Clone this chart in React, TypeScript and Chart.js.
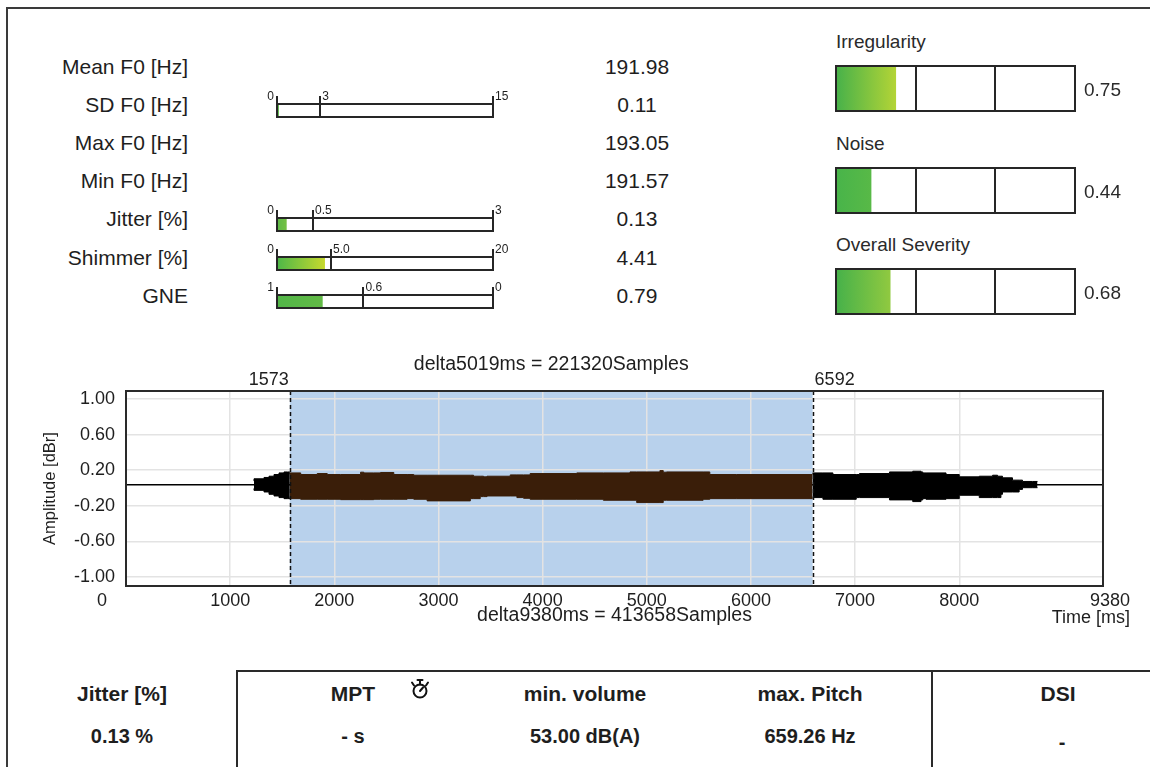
import React, { useEffect, useRef } from 'react';
import { Chart, registerables } from 'chart.js';

Chart.register(...registerables);

const FONT = '"Liberation Sans", Arial, Helvetica, sans-serif';

// ---------------- data ----------------
const PARAM_LABELS = ['Mean F0 [Hz]', 'SD F0 [Hz]', 'Max F0 [Hz]', 'Min F0 [Hz]', 'Jitter [%]', 'Shimmer [%]', 'GNE'];
const PARAM_VALUES = [191.98, 0.11, 193.05, 191.57, 0.13, 4.41, 0.79];

// gauges shown next to some of the parameters (row index into PARAM_*)
const GAUGE_ROWS = [1, 4, 5, 6];
const GAUGE_FROM = [0, 0, 0, 1];
const GAUGE_MARK = [3, 0.5, 5.0, 0.6];
const GAUGE_TO = [15, 3, 20, 0];
const GAUGE_TICK_LABELS = [['0', '3', '15'], ['0', '0.5', '3'], ['0', '5.0', '20'], ['1', '0.6', '0']];

const SEVERITY_LABELS = ['Irregularity', 'Noise', 'Overall Severity'];
const SEVERITY_VALUES = [0.75, 0.44, 0.68];
const SEVERITY_MARKS = [0, 1, 2, 3];

// waveform
const TOTAL_MS = 9380;
const TOTAL_SAMPLES = 413658;
const SEL_START = 1573;
const SEL_END = 6592;
const SEL_SAMPLES = 221320;
const X_TICKS = [0, 1000, 2000, 3000, 4000, 5000, 6000, 7000, 8000, 9380];
const Y_TICKS = [-1.0, -0.6, -0.2, 0.2, 0.6, 1.0];
const BASELINE = 0.036;

const PRE_T = [1229, 1325, 1373, 1421, 1469, 1517, 1550, 1573];
const PRE_UP = [0.078, 0.104, 0.119, 0.133, 0.152, 0.17, 0.181, 0.181];
const PRE_LO = [-0.004, -0.026, -0.044, -0.07, -0.089, -0.107, -0.119, -0.119];

const MID_T = [1573, 1677, 1836, 1932, 2060, 2252, 2283, 2379, 2443, 2571, 2699, 2763, 2891, 3306, 3337, 3401, 3433, 3466, 3689, 3753, 3817, 3880, 4328, 4583, 4839, 4903, 5126, 5158, 5190, 5541, 5605, 5861, 6592];
const MID_UP = [0.152, 0.17, 0.152, 0.163, 0.152, 0.152, 0.178, 0.17, 0.17, 0.175, 0.152, 0.152, 0.144, 0.144, 0.144, 0.133, 0.133, 0.126, 0.133, 0.148, 0.148, 0.148, 0.163, 0.17, 0.17, 0.181, 0.181, 0.196, 0.178, 0.181, 0.181, 0.152, 0.152];
const MID_LO = [-0.107, -0.119, -0.126, -0.126, -0.126, -0.13, -0.13, -0.13, -0.126, -0.126, -0.126, -0.119, -0.126, -0.144, -0.119, -0.119, -0.096, -0.096, -0.089, -0.089, -0.107, -0.115, -0.126, -0.126, -0.137, -0.137, -0.163, -0.163, -0.137, -0.137, -0.126, -0.119, -0.119];

const POST_T = [6592, 6691, 6787, 7011, 7042, 7330, 7553, 7633, 7650, 7681, 7873, 8000, 8192, 8320, 8368, 8400, 8415, 8511, 8575, 8607, 8703, 8751];
const POST_UP = [0.163, 0.17, 0.17, 0.152, 0.152, 0.163, 0.181, 0.189, 0.181, 0.17, 0.17, 0.152, 0.126, 0.133, 0.144, 0.133, 0.133, 0.115, 0.089, 0.089, 0.074, 0.074];
const POST_LO = [-0.107, -0.107, -0.126, -0.126, -0.107, -0.107, -0.133, -0.152, -0.133, -0.119, -0.126, -0.119, -0.081, -0.107, -0.107, -0.107, -0.07, -0.044, -0.044, -0.015, 0.004, 0.004];

const SUMMARY_HEADERS = ['Jitter [%]', 'MPT', 'min. volume', 'max. Pitch', 'DSI'];
const SUMMARY_VALUES = ['0.13 %', '- s', '53.00 dB(A)', '659.26 Hz', '-'];

// ---------------- styles ----------------
const GAUGE_COLORS = [['#5cb847', '#5cb847'], ['#5db947', '#74c044'], ['#4db748', '#c6d92e'], ['#52b648', '#62ba46']];
const SEVERITY_COLORS = [['#47b14a', '#b3d436'], ['#48b44a', '#58b947'], ['#46b14a', '#90c940']];
const BROWN = '#3a1e09';
const SEL_BLUE = '#b8d1ec';
const INK = '#1e1e1e';

function Txt({ x, y, a = 'left', size, bold = false, color = INK, children }: any) {
  const tx = a === 'left' ? '0' : a === 'center' ? '-50%' : '-100%';
  return (
    <div
      style={{
        position: 'absolute',
        left: x,
        top: y,
        transform: `translate(${tx}, -50%)`,
        fontSize: size,
        fontWeight: bold ? 700 : 400,
        color,
        whiteSpace: 'nowrap',
        lineHeight: 1,
        fontFamily: FONT,
      }}
    >
      {children}
    </div>
  );
}

function Gauge({ left, top, width, height, from, to, value, marks, markLabels, colors, framed }: any) {
  const ref = useRef<HTMLCanvasElement | null>(null);
  const padL = 14, padR = 24, padT = 16, padB = 2;
  useEffect(() => {
    const lo = Math.min(from, to), hi = Math.max(from, to);
    const plugin = {
      id: 'gaugeFrame',
      afterDatasetsDraw(chart: any) {
        const { ctx, chartArea: a, scales } = chart;
        const xs = scales.x;
        ctx.save();
        ctx.strokeStyle = '#262626';
        ctx.lineWidth = 2;
        ctx.beginPath();
        if (framed) {
          ctx.rect(a.left, a.top, a.right - a.left, a.bottom - a.top);
          marks.slice(1, -1).forEach((m: number) => {
            const px = Math.round(xs.getPixelForValue(m));
            ctx.moveTo(px, a.top);
            ctx.lineTo(px, a.bottom);
          });
        } else {
          ctx.moveTo(a.left, a.top);
          ctx.lineTo(a.right, a.top);
          ctx.moveTo(a.left, a.bottom);
          ctx.lineTo(a.right, a.bottom);
          marks.forEach((m: number) => {
            const px = Math.round(xs.getPixelForValue(m));
            ctx.moveTo(px, a.top - 8);
            ctx.lineTo(px, a.bottom + 1);
          });
        }
        ctx.stroke();
        if (markLabels) {
          ctx.fillStyle = INK;
          ctx.font = `12px ${FONT}`;
          ctx.textBaseline = 'alphabetic';
          marks.forEach((m: number, i: number) => {
            const px = xs.getPixelForValue(m);
            if (i === 0) {
              ctx.textAlign = 'right';
              ctx.fillText(markLabels[i], px - 3, a.top - 4);
            } else {
              ctx.textAlign = 'left';
              ctx.fillText(markLabels[i], px + 2, a.top - 4);
            }
          });
        }
        ctx.restore();
      },
    };
    const chart = new Chart(ref.current as HTMLCanvasElement, {
      type: 'bar',
      data: {
        labels: ['v'],
        datasets: [
          {
            data: [[from, value]] as any,
            borderWidth: 0,
            barPercentage: 1,
            categoryPercentage: 1,
            backgroundColor: (c: any) => {
              const ch = c.chart;
              if (!ch.chartArea) return colors[0];
              const xs = ch.scales.x;
              const x0 = xs.getPixelForValue(from);
              const x1 = xs.getPixelForValue(value);
              if (Math.abs(x1 - x0) < 2) return colors[0];
              const g = ch.ctx.createLinearGradient(x0, 0, x1, 0);
              g.addColorStop(0, colors[0]);
              g.addColorStop(1, colors[1]);
              return g;
            },
          },
        ],
      },
      options: {
        indexAxis: 'y',
        animation: false,
        responsive: false,
        maintainAspectRatio: false,
        events: [],
        layout: { padding: { left: padL, right: padR, top: padT, bottom: padB } },
        plugins: { legend: { display: false }, tooltip: { enabled: false } },
        scales: {
          x: { type: 'linear', min: lo, max: hi, reverse: from > to, display: false },
          y: { type: 'category', display: false },
        },
      } as any,
      plugins: [plugin],
    });
    return () => chart.destroy();
  }, []);
  return (
    <canvas
      ref={ref}
      width={width + padL + padR}
      height={height + padT + padB}
      style={{ position: 'absolute', left: left - padL, top: top - padT, width: width + padL + padR, height: height + padT + padB }}
    />
  );
}

function Waveform() {
  const ref = useRef<HTMLCanvasElement | null>(null);
  useEffect(() => {
    const pts = (t: number[], v: number[]) => t.map((x, i) => ({ x, y: v[i] }));
    const seg = (t: number[], up: number[], lo: number[], color: string) => [
      { data: pts(t, up), borderColor: color, backgroundColor: color, borderWidth: 1, pointRadius: 0, stepped: 'after', fill: false, order: 1 },
      { data: pts(t, lo), borderColor: color, backgroundColor: color, borderWidth: 1, pointRadius: 0, stepped: 'after', fill: '-1', order: 1 },
    ];
    const datasets: any[] = [
      ...seg(PRE_T, PRE_UP, PRE_LO, '#000'),
      ...seg(MID_T, MID_UP, MID_LO, BROWN),
      ...seg(POST_T, POST_UP, POST_LO, '#000'),
      {
        data: [{ x: 0, y: BASELINE }, { x: TOTAL_MS, y: BASELINE }],
        borderColor: '#000',
        borderWidth: 1.5,
        pointRadius: 0,
        fill: false,
        order: 5,
      },
    ];

    const plugin = {
      id: 'waveDecor',
      beforeDraw(chart: any) {
        const { ctx, chartArea: a, scales } = chart;
        const x0 = scales.x.getPixelForValue(SEL_START);
        const x1 = scales.x.getPixelForValue(SEL_END);
        ctx.save();
        ctx.fillStyle = SEL_BLUE;
        ctx.fillRect(x0, a.top, x1 - x0, a.bottom - a.top);
        ctx.restore();
      },
      afterDatasetsDraw(chart: any) {
        const { ctx, chartArea: a, scales } = chart;
        const x0 = Math.round(scales.x.getPixelForValue(SEL_START)) + 0.5;
        const x1 = Math.round(scales.x.getPixelForValue(SEL_END)) + 0.5;
        ctx.save();
        ctx.strokeStyle = '#111';
        ctx.lineWidth = 1.5;
        ctx.setLineDash([4, 3]);
        ctx.beginPath();
        ctx.moveTo(x0, a.top);
        ctx.lineTo(x0, a.bottom);
        ctx.moveTo(x1, a.top);
        ctx.lineTo(x1, a.bottom);
        ctx.stroke();
        ctx.setLineDash([]);
        ctx.strokeStyle = '#2a2a2a';
        ctx.lineWidth = 2;
        ctx.strokeRect(a.left, a.top, a.right - a.left, a.bottom - a.top);
        ctx.restore();
      },
      afterDraw(chart: any) {
        const { ctx, chartArea: a, scales } = chart;
        const xs = scales.x;
        ctx.save();
        ctx.fillStyle = INK;
        ctx.textBaseline = 'middle';
        ctx.font = `18px ${FONT}`;
        X_TICKS.forEach((v, i) => {
          const px = xs.getPixelForValue(v);
          ctx.textAlign = 'center';
          if (i === 0) {
            ctx.fillText(String(v), px - 24, a.bottom + 15);
          } else if (i === X_TICKS.length - 1) {
            ctx.fillText(String(v), px + 7, a.bottom + 15);
          } else {
            ctx.fillText(String(v), px, a.bottom + 15);
          }
        });
        const x0 = xs.getPixelForValue(SEL_START);
        const x1 = xs.getPixelForValue(SEL_END);
        ctx.textAlign = 'right';
        ctx.fillText(String(SEL_START), x0 - 1, a.top - 11);
        ctx.textAlign = 'left';
        ctx.fillText(String(SEL_END), x1 + 2, a.top - 11);
        ctx.font = `19.5px ${FONT}`;
        ctx.textAlign = 'center';
        ctx.fillText(`delta${SEL_END - SEL_START}ms = ${SEL_SAMPLES}Samples`, (x0 + x1) / 2, a.top - 26);
        ctx.fillText(`delta${TOTAL_MS}ms = ${TOTAL_SAMPLES}Samples`, (a.left + a.right) / 2, a.bottom + 30);
        ctx.font = `18px ${FONT}`;
        ctx.textAlign = 'right';
        ctx.fillText('Time [ms]', a.right + 27, a.bottom + 32);
        ctx.restore();
      },
    };

    const chart = new Chart(ref.current as HTMLCanvasElement, {
      type: 'line',
      data: { datasets },
      options: {
        animation: false,
        responsive: false,
        maintainAspectRatio: false,
        events: [],
        layout: { padding: { left: 0, right: 47, top: 51, bottom: 54 } },
        plugins: { legend: { display: false }, tooltip: { enabled: false } },
        scales: {
          x: {
            type: 'linear',
            min: 0,
            max: TOTAL_MS,
            afterBuildTicks: (s: any) => {
              s.ticks = X_TICKS.map((v) => ({ value: v }));
            },
            ticks: { display: false },
            grid: { color: '#e3e3e3', lineWidth: 1.5, drawTicks: false },
            border: { display: false },
            afterFit: (s: any) => {
              s.height = 0;
            },
          },
          y: {
            type: 'linear',
            min: -1.1,
            max: 1.09,
            afterBuildTicks: (s: any) => {
              s.ticks = Y_TICKS.map((v) => ({ value: v }));
            },
            ticks: {
              font: { family: FONT, size: 18 },
              color: INK,
              padding: 11,
              callback: (v: any) => Number(v).toFixed(2),
            },
            grid: { color: '#e3e3e3', lineWidth: 1.5, drawTicks: false },
            border: { display: false },
            title: {
              display: true,
              text: 'Amplitude [dBr]',
              font: { family: FONT, size: 16.5 },
              color: INK,
              padding: { top: 41, bottom: 0 },
            },
            afterFit: (s: any) => {
              s.width = 126;
            },
          },
        },
      } as any,
      plugins: [plugin],
    });
    return () => chart.destroy();
  }, []);
  return <canvas ref={ref} width={1150} height={300} style={{ position: 'absolute', left: 0, top: 340, width: 1150, height: 300 }} />;
}

function Stopwatch({ x, y }: any) {
  return (
    <svg width={22} height={22} viewBox="0 0 22 22" style={{ position: 'absolute', left: x - 11, top: y - 11 }}>
      <g stroke="#111" strokeWidth={2} fill="none" strokeLinecap="round">
        <circle cx={11} cy={13} r={6.5} />
        <line x1={11} y1={13} x2={14} y2={9.5} />
        <line x1={11} y1={6.5} x2={11} y2={2} />
        <line x1={8.5} y1={2} x2={13.5} y2={2} />
        <line x1={5} y1={7.5} x2={3} y2={4.5} />
        <line x1={17} y1={7.5} x2={19} y2={4.5} />
      </g>
    </svg>
  );
}

export default function App() {
  const rowY = (i: number) => 65.5 + i * 38.2;
  const sumX = [122, 353, 585, 810, 1058];
  return (
    <div style={{ position: 'absolute', left: 0, top: 0, width: 1150, height: 767, overflow: 'hidden', background: '#fff', fontFamily: FONT }}>
      {/* outer frame */}
      <div style={{ position: 'absolute', left: 6, top: 7, width: 1200, height: 800, borderTop: '2px solid #3a3a3a', borderLeft: '2px solid #3a3a3a' }} />

      {/* parameter list */}
      {PARAM_LABELS.map((l, i) => (
        <Txt key={'l' + i} x={188} y={rowY(i)} a="right" size={21}>
          {l}
        </Txt>
      ))}
      {PARAM_VALUES.map((v, i) => (
        <Txt key={'v' + i} x={637} y={rowY(i)} a="center" size={21}>
          {v.toFixed(2)}
        </Txt>
      ))}
      {GAUGE_ROWS.map((r, k) => (
        <Gauge
          key={'g' + k}
          left={277}
          top={Math.round(rowY(r))}
          width={216}
          height={13}
          from={GAUGE_FROM[k]}
          to={GAUGE_TO[k]}
          value={PARAM_VALUES[r]}
          marks={[GAUGE_FROM[k], GAUGE_MARK[k], GAUGE_TO[k]]}
          markLabels={GAUGE_TICK_LABELS[k]}
          colors={GAUGE_COLORS[k]}
          framed={false}
        />
      ))}

      {/* severity panel */}
      {SEVERITY_LABELS.map((l, i) => (
        <React.Fragment key={'s' + i}>
          <Txt x={836} y={41 + i * 101.5} size={19} color="#2a2a2a">
            {l}
          </Txt>
          <Gauge
            left={836}
            top={Math.round(66 + i * 101.5)}
            width={239}
            height={45}
            from={SEVERITY_MARKS[0]}
            to={SEVERITY_MARKS[SEVERITY_MARKS.length - 1]}
            value={SEVERITY_VALUES[i]}
            marks={SEVERITY_MARKS}
            markLabels={null}
            colors={SEVERITY_COLORS[i]}
            framed={true}
          />
          <Txt x={1084} y={89 + i * 101.5} size={19} color="#2a2a2a">
            {SEVERITY_VALUES[i].toFixed(2)}
          </Txt>
        </React.Fragment>
      ))}

      <Waveform />

      {/* summary table */}
      <div style={{ position: 'absolute', left: 236, top: 670, width: 1000, height: 0, borderTop: '2px solid #2a2a2a' }} />
      <div style={{ position: 'absolute', left: 236, top: 670, width: 0, height: 120, borderLeft: '2px solid #2a2a2a' }} />
      <div style={{ position: 'absolute', left: 931, top: 670, width: 0, height: 120, borderLeft: '2px solid #2a2a2a' }} />
      {SUMMARY_HEADERS.map((h, i) => (
        <Txt key={'h' + i} x={sumX[i]} y={693} a="center" size={21} bold>
          {h}
        </Txt>
      ))}
      {SUMMARY_VALUES.map((v, i) => (
        <Txt key={'sv' + i} x={sumX[i] + (i === 4 ? 4 : 0)} y={i === 4 ? 742 : 736} a="center" size={20} bold>
          {v}
        </Txt>
      ))}
      <Stopwatch x={420} y={689} />
    </div>
  );
}
